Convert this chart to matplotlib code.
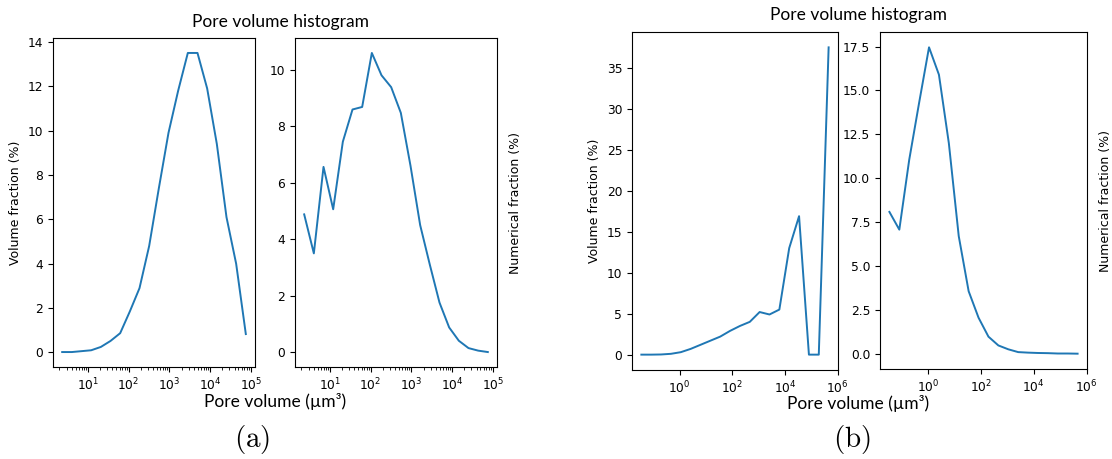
import matplotlib
matplotlib.use("Agg")
import matplotlib.pyplot as plt
import numpy as np

W, H = 1112, 459

# pore volume bin centres (um^3), log-spaced
vol_a = np.logspace(0.37, 4.88, 20)
vol_b = np.logspace(-1.45, 5.66, 20)

vol_frac_a = [0.02, 0.02, 0.06, 0.10, 0.25, 0.52, 0.87, 1.85, 2.9, 4.8,
              7.4, 9.9, 11.8, 13.5, 13.5, 11.9, 9.4, 6.1, 4.0, 0.83]
num_frac_a = [4.88, 3.5, 6.56, 5.06, 7.45, 8.59, 8.68, 10.59, 9.8, 9.38,
              8.47, 6.6, 4.5, 3.1, 1.76, 0.88, 0.41, 0.15, 0.06, 0.01]

vol_frac_b = [0.0, 0.0, 0.02, 0.1, 0.3, 0.7, 1.2, 1.7, 2.2, 2.9,
              3.5, 4.0, 5.2, 4.9, 5.5, 13.0, 16.9, 0.0, 0.0, 37.5]
num_frac_b = [8.08, 7.07, 11.05, 14.3, 17.46, 15.9, 12.0, 6.7, 3.56, 2.05,
              0.97, 0.47, 0.25, 0.09, 0.06, 0.04, 0.03, 0.01, 0.01, 0.0]

title = "Pore volume histogram"
x_label = "Pore volume (\u00b5m\u00b3)"
label_font = "Lato"


def box(x0, x1, y0, y1):
    return [x0 / W, (H - y1) / H, (x1 - x0) / W, (y1 - y0) / H]


def keep_ticks_in_view(ax):
    # drop tick labels that fall outside the axes limits
    lo, hi = ax.get_xlim()
    ax.set_xticks([t for t in ax.get_xticks() if lo <= t <= hi * 1.0001])
    lo, hi = ax.get_ylim()
    ax.set_yticks([t for t in ax.get_yticks() if lo <= t <= hi])


def panel(fig, x, yv, yn, left_box, right_box, yfmt=None):
    ax1 = fig.add_axes(left_box)
    ax1.plot(x, yv, color="#1f77b4", lw=1.4)
    ax1.set_xscale("log")
    ax1.set_ylabel("Volume fraction (%)", fontsize=9)

    ax2 = fig.add_axes(right_box)
    ax2.plot(x, yn, color="#1f77b4", lw=1.4)
    ax2.set_xscale("log")
    ax2.yaxis.set_label_position("right")
    ax2.set_ylabel("Numerical fraction (%)", fontsize=9, labelpad=9)
    if yfmt:
        ax2.yaxis.set_major_formatter(yfmt)

    for ax in (ax1, ax2):
        ax.tick_params(labelsize=8.8)
        keep_ticks_in_view(ax)
    return ax1, ax2


fig = plt.figure(figsize=(W / 100, H / 100), dpi=100)
plt.rcParams["mathtext.fontset"] = "cm"

panel(fig, vol_a, vol_frac_a, num_frac_a,
      box(53, 255, 38, 367), box(295, 497, 38, 367))
panel(fig, vol_b, vol_frac_b, num_frac_b,
      box(632, 838, 32, 370), box(880, 1087, 32, 369),
      yfmt=matplotlib.ticker.FormatStrFormatter("%.1f"))

fig.text(281 / W, 1 - 22 / H, title, ha="center", va="center",
         fontsize=12.5, family=label_font)
fig.text(275 / W, 1 - 401 / H, x_label, ha="center", va="center",
         fontsize=12.5, family=label_font)
fig.text(859 / W, 1 - 15 / H, title, ha="center", va="center",
         fontsize=12.5, family=label_font)
fig.text(858 / W, 1 - 404 / H, x_label, ha="center", va="center",
         fontsize=12.5, family=label_font)

fig.text(252 / W, 1 - 440 / H, r"$\mathrm{(a)}$", ha="center", va="center", fontsize=21)
fig.text(852 / W, 1 - 440 / H, r"$\mathrm{(b)}$", ha="center", va="center", fontsize=21)

fig.savefig("out.png", dpi=100)
